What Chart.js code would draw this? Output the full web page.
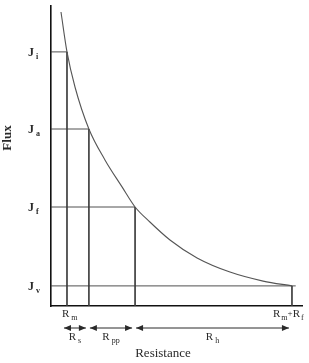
<!DOCTYPE html>
<html>
<head>
<meta charset="utf-8">
<script src="https://cdn.jsdelivr.net/npm/chart.js@4/dist/chart.umd.min.js"></script>
<style>
  html, body { margin: 0; padding: 0; background: #fff; }
  #wrap { width: 309px; height: 363px; }
</style>
</head>
<body>
<div id="wrap"><canvas id="flux"></canvas></div>
<script>
// flux decline curve (resistance in arbitrary units)
const curveRes = [3.98, 6.37, 9.56, 15.1, 21.5, 28.3, 33.5, 39.4, 47.4, 58.2, 71.3, 84.5, 96];
const curveFlux = [98, 84.7, 73, 59, 48.7, 39.7, 33, 28, 22, 16, 11.3, 8.3, 6.7];

// flux levels and the resistance where each meets the curve
const levelSubs = ['i', 'a', 'f', 'v'];
const levelFlux = [84.7, 59, 33, 6.7];
const levelRes = [6.37, 15.1, 33.5, 96];

// resistance spans shown with arrows under the axis
const spanSubs = ['s', 'pp', 'h'];
const spanFrom = [6.37, 15.1, 33.5];
const spanTo = [15.1, 33.5, 96];

const INK = '#2a2a2a';
const GUIDE = '#3c3c3c';
const SERIF = '"Liberation Serif", "DejaVu Serif", serif';

function pts(xs, ys) {
  return xs.map((x, i) => ({ x, y: ys[i] }));
}

const datasets = [{
  data: pts(curveRes, curveFlux),
  borderColor: '#555',
  borderWidth: 1.1,
  pointRadius: 0,
  cubicInterpolationMode: 'monotone',
  fill: false,
}];

levelFlux.forEach((f, i) => {
  const r = levelRes[i];
  datasets.push({
    data: [{ x: 0, y: f }, { x: i === 3 ? 97.5 : r, y: f }],
    borderColor: GUIDE, borderWidth: 0.9, pointRadius: 0, tension: 0,
  });
  datasets.push({
    data: [{ x: r, y: f }, { x: r, y: 0 }],
    borderColor: GUIDE, borderWidth: 0.9, pointRadius: 0, tension: 0,
  });
});

function sub(ctx, x, y, main, small, mainFont, smallFont, gap = 2) {
  ctx.font = mainFont;
  ctx.fillText(main, x, y);
  const w = ctx.measureText(main).width;
  ctx.font = smallFont;
  ctx.fillText(small, x + w + gap, y + 3);
  return x + w + gap + ctx.measureText(small).width;
}

function arrowHead(ctx, x, y, dir) {
  ctx.beginPath();
  ctx.moveTo(x, y);
  ctx.lineTo(x - dir * 7, y - 3);
  ctx.lineTo(x - dir * 7, y + 3);
  ctx.closePath();
  ctx.fill();
}

const labelsPlugin = {
  id: 'labels',
  afterDraw(chart) {
    const { ctx, scales: { x, y } } = chart;
    ctx.save();
    ctx.fillStyle = INK;
    ctx.strokeStyle = INK;
    ctx.textBaseline = 'alphabetic';
    ctx.textAlign = 'left';

    // flux level labels on the left
    levelSubs.forEach((s, i) => {
      const py = y.getPixelForValue(levelFlux[i]);
      sub(ctx, 28, py + 4, 'J', s, 'bold 12px ' + SERIF, 'bold 8px ' + SERIF);
    });

    // resistance labels under the axis
    const rf = '11px ' + SERIF, sf = '8px ' + SERIF;
    sub(ctx, x.getPixelForValue(levelRes[0]) - 5, 317, 'R', 'm', rf, sf);
    let nx = sub(ctx, 273, 317, 'R', 'm', rf, sf, 1);
    ctx.font = '9px ' + SERIF;
    ctx.fillText('+', nx, 316);
    nx += ctx.measureText('+').width;
    sub(ctx, nx, 317, 'R', 'f', rf, sf, 1);

    // span arrows
    const ay = 328;
    spanSubs.forEach((s, i) => {
      const a = x.getPixelForValue(spanFrom[i]) - (i === 0 ? 3 : -1);
      const b = x.getPixelForValue(spanTo[i]) - 3;
      ctx.lineWidth = 1;
      ctx.beginPath();
      ctx.moveTo(a, ay);
      ctx.lineTo(b, ay);
      ctx.stroke();
      arrowHead(ctx, a, ay, -1);
      arrowHead(ctx, b, ay, 1);
      const mid = (a + b) / 2;
      ctx.font = rf;
      const w = ctx.measureText('R').width;
      ctx.font = sf;
      const ws = ctx.measureText(s).width;
      sub(ctx, mid - (w + ws + 2) / 2, 340, 'R', s, rf, sf);
    });

    // axis titles
    ctx.font = '13px ' + SERIF;
    ctx.textAlign = 'center';
    ctx.fillText('Resistance', 163, 357);

    ctx.translate(11, 138);
    ctx.rotate(-Math.PI / 2);
    ctx.font = 'bold 13px ' + SERIF;
    ctx.fillText('Flux', 0, 0);
    ctx.restore();
  },
};

const axis = (min, max) => ({
  type: 'linear',
  min, max,
  ticks: { display: false },
  grid: { display: false, drawTicks: false },
  border: { display: true, color: '#111', width: 1.6 },
});

new Chart(document.getElementById('flux'), {
  type: 'line',
  data: { datasets },
  options: {
    responsive: true,
    maintainAspectRatio: false,
    animation: false,
    layout: { padding: { left: 51, right: 7, top: 6, bottom: 57 } },
    plugins: { legend: { display: false }, tooltip: { enabled: false } },
    scales: { x: axis(0, 100), y: axis(0, 100) },
  },
  plugins: [labelsPlugin],
});
</script>
</body>
</html>
